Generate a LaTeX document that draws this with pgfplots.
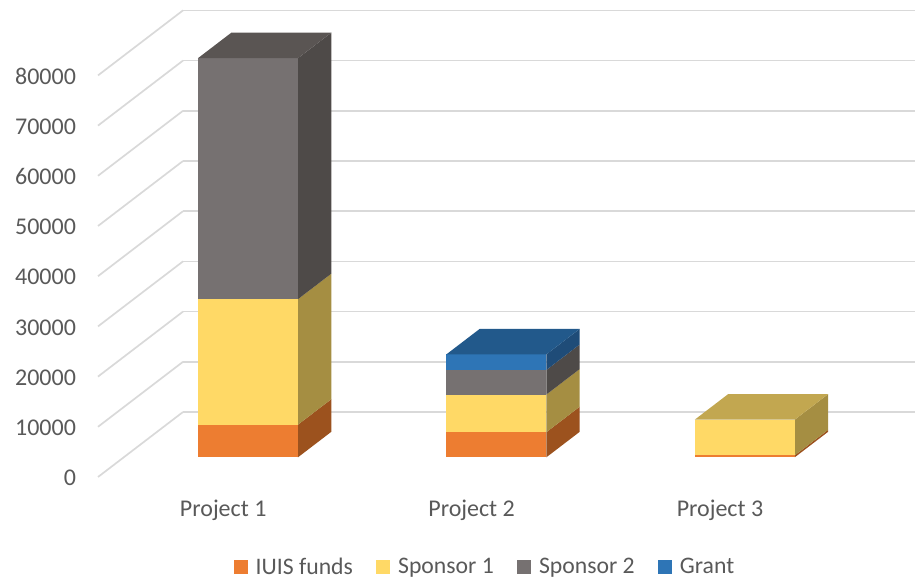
\documentclass[border=0pt]{standalone}
\usepackage{pgfplots}
\pgfplotsset{compat=1.18}
\usepackage{fontspec}
\setmainfont{Carlito}
\definecolor{txt}{HTML}{595959}
\definecolor{gridc}{HTML}{D9D9D9}
\definecolor{orF}{HTML}{ED7D31}
\definecolor{orS}{HTML}{9C521E}
\definecolor{yeF}{HTML}{FFD966}
\definecolor{yeS}{HTML}{A58E42}
\definecolor{yeT}{HTML}{C2A750}
\definecolor{grF}{HTML}{767171}
\definecolor{grS}{HTML}{4E4A48}
\definecolor{grT}{HTML}{5A5553}
\definecolor{blF}{HTML}{2E75B6}
\definecolor{blS}{HTML}{1F4C78}
\definecolor{blT}{HTML}{22598B}
% one stacked segment: xleft, xright, z bottom, z top, front colour, side colour
\newcommand{\seg}[6]{%
  \addplot3[fill=#6,draw=none,forget plot] coordinates {(#2,0.303,#3)(#2,0.695,#3)(#2,0.695,#4)(#2,0.303,#4)};
  \addplot3[fill=#5,draw=none,forget plot] coordinates {(#1,0.303,#3)(#2,0.303,#3)(#2,0.303,#4)(#1,0.303,#4)};
}
\newcommand{\topface}[4]{%
  \addplot3[fill=#4,draw=none,forget plot] coordinates {(#1,0.303,#3)(#2,0.303,#3)(#2,0.695,#3)(#1,0.695,#3)};
}
\begin{document}
\begin{tikzpicture}
\path[use as bounding box] (0,0) rectangle (915pt,578pt);
\begin{axis}[
  at={(98pt,101.0pt)}, anchor=south west,
  x={(248.4pt,0pt)}, y={(85pt,65pt)}, z={(0pt,0.00502pt)},
  xmin=-0.5, xmax=2.447, ymin=0, ymax=1, zmin=0, zmax=80000,
  xtick={0,1,2}, xticklabels={Project 1,Project 2,Project 3},
  ytick=\empty,
  ztick={0,10000,...,80000},
  zmajorgrids, xmajorgrids=false, ymajorgrids=false,
  major grid style={line width=1.7pt,draw=gridc},
  axis line style={draw=none},
  major tick length=0pt,
  no marks,
  clip=false,
  scaled z ticks=false,
  /pgf/number format/assume math mode=true,
  /pgf/number format/set thousands separator={},
  tick label style={font=\fontsize{24}{28}\selectfont,text=txt},
  z tick label style={anchor=east,xshift=-18.5pt,yshift=-1pt},
  x tick label style={anchor=center,xshift=1pt,yshift=-33pt},
  legend style={at={(0.4735,-0.192)},anchor=center,draw=none,fill=none,
    font=\fontsize{23.7}{27}\selectfont,text=txt,
    /tikz/every even column/.append style={column sep=21pt}},
  legend columns=4,
  legend cell align=left,
  legend image code/.code={\fill[#1,draw=none] (0pt,-7pt) rectangle (14pt,7pt);\path (20pt,0pt);},
]
% Project 1
\seg{-0.2013}{0.2013}{0}{6500}{orF}{orS}
\seg{-0.2013}{0.2013}{6500}{31500}{yeF}{yeS}
\seg{-0.2013}{0.2013}{31500}{79500}{grF}{grS}
\topface{-0.2013}{0.2013}{79500}{grT}
% Project 2
\seg{0.7987}{1.2013}{0}{5000}{orF}{orS}
\seg{0.7987}{1.2013}{5000}{12500}{yeF}{yeS}
\seg{0.7987}{1.2013}{12500}{17400}{grF}{grS}
\seg{0.7987}{1.2013}{17400}{20500}{blF}{blS}
\topface{0.7987}{1.2013}{20500}{blT}
% Project 3
\seg{1.7987}{2.2013}{0}{400}{orF}{orS}
\seg{1.7987}{2.2013}{400}{7500}{yeF}{yeS}
\topface{1.7987}{2.2013}{7500}{yeT}
\addlegendimage{fill=orF}\addlegendentry{IUIS funds}
\addlegendimage{fill=yeF}\addlegendentry{Sponsor 1}
\addlegendimage{fill=grF}\addlegendentry{Sponsor 2}
\addlegendimage{fill=blF}\addlegendentry{Grant}
\end{axis}
\end{tikzpicture}
\end{document}
